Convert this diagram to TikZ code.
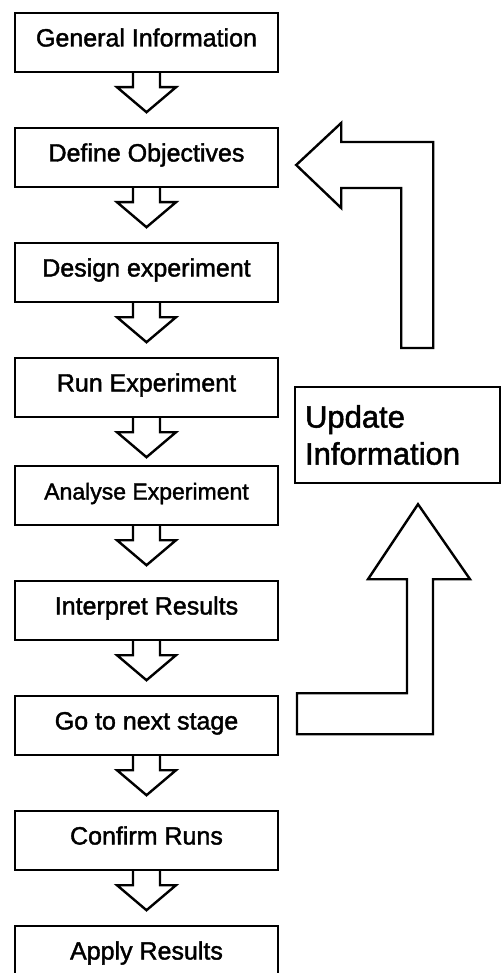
\documentclass[tikz,border=0pt]{standalone}
\usepackage{fontspec}
\setmainfont{Liberation Sans}
\newfontfamily\scanfont{Liberation Sans}[FakeBold=1.6]
\usetikzlibrary{positioning, calc}

\newcommand{\flowarrow}[1]{%
  \draw[blockarr] ($(#1.south)+(-13.5,0)$) -- ++(0,14) -- ++(-16,0)
    -- ($(#1.south)+(0,39)$) -- ($(#1.south)+(29.5,14)$) -- ++(-16,0)
    -- ($(#1.south)+(13.5,0)$);}

\begin{document}
\begin{tikzpicture}[
  x=1pt, y=-1pt,
  stage/.style={rectangle, draw=black, line width=2.4pt, fill=white,
                minimum width=263pt, minimum height=59pt, inner sep=0pt,
                text height=18pt, text depth=10pt, text centered,
                font=\scanfont\fontsize{25}{29}\selectfont},
  infobox/.style={rectangle, draw=black, line width=2.4pt, fill=white,
                  text width=185pt, inner sep=10pt, minimum height=96pt,
                  align=left, font=\scanfont\fontsize{31}{37}\selectfont},
  blockarr/.style={draw=black, line width=2.4pt, line join=miter},
  fatarr/.style={draw=black, line width=2.4pt, line join=miter, fill=white}
]
\path[use as bounding box, clip] (0,0) rectangle (502,973);

%% Main chain
\node[stage] (gen) at (146.5,42.5) {General Information};
\node[stage, below=53.6pt of gen] (obj) {Define Objectives};
\node[stage, below=53.6pt of obj] (des) {Design experiment};
\node[stage, below=53.6pt of des] (run) {Run Experiment};
\node[stage, below=46.6pt of run, font=\scanfont\fontsize{23}{27}\selectfont] (ana) {Analyse Experiment};
\node[stage, below=53.6pt of ana] (itp) {Interpret Results};
\node[stage, below=53.6pt of itp] (nxt) {Go to next stage};
\node[stage, below=53.6pt of nxt] (con) {Confirm Runs};
\node[stage, below=53.6pt of con] (app) {Apply Results};

\foreach \n in {gen,obj,des,run,ana,itp,nxt,con}
  {\flowarrow{\n}}

%% Feedback loop
\node[infobox] (upd) at (397.5,435) {Update\\Information};

\coordinate (uptip) at ($(upd.south)+(20.5,20)$);
\draw[fatarr] (uptip) -- ++(52,75) -- ++(-37,0) -- ++(0,155) -- ++(-136,0)
  -- ++(0,-41) -- ++(110,0) -- ++(0,-114) -- ++(-39,0) -- cycle;

\coordinate (backtip) at ($(obj.east)+(17,7.5)$);
\draw[fatarr] (backtip) -- ++(45,-42) -- ++(0,19) -- ++(92,0) -- ++(0,206)
  -- ++(-32,0) -- ++(0,-160) -- ++(-60,0) -- ++(0,20) -- cycle;
\end{tikzpicture}
\end{document}
